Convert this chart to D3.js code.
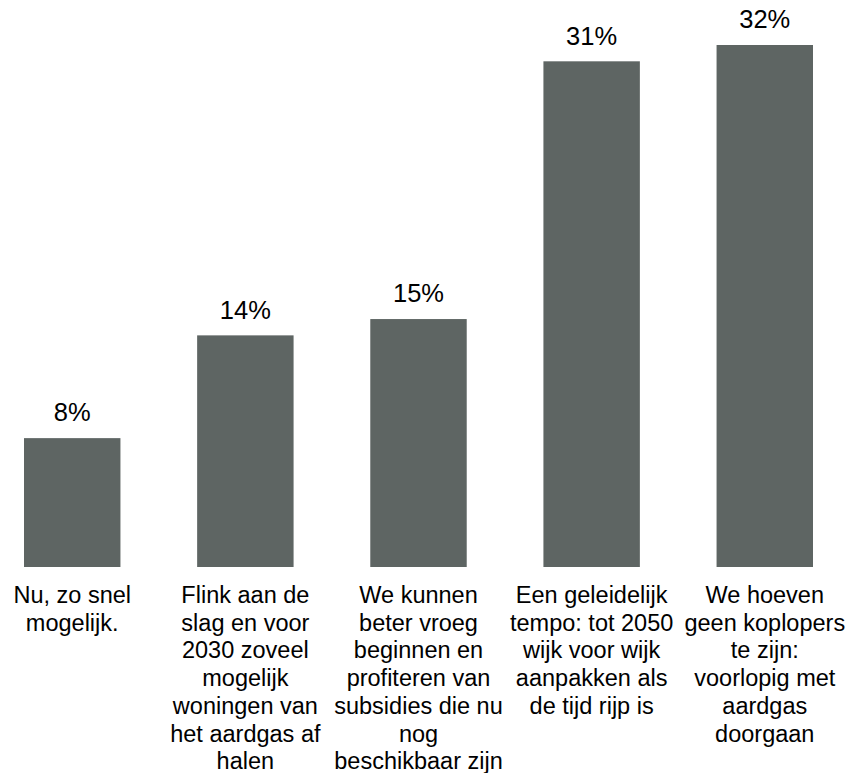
<!DOCTYPE html>
<html>
<head>
<meta charset="utf-8">
<script src="https://cdn.jsdelivr.net/npm/d3@7"></script>
<style>
  html, body { margin: 0; padding: 0; background: #fff; }
  #chart { width: 850px; height: 773px; }
  text { font-family: "Liberation Sans", Arial, sans-serif; fill: #000; }
</style>
</head>
<body>
<div id="chart"></div>
<script>
// Data (line breaks as in the original labels)
let categories = [
  'Nu, zo snel\nmogelijk.',
  'Flink aan de\nslag en voor\n2030 zoveel\nmogelijk\nwoningen van\nhet aardgas af\nhalen',
  'We kunnen\nbeter vroeg\nbeginnen en\nprofiteren van\nsubsidies die nu\nnog\nbeschikbaar zijn',
  'Een geleidelijk\ntempo: tot 2050\nwijk voor wijk\naanpakken als\nde tijd rijp is',
  'We hoeven\ngeen koplopers\nte zijn:\nvoorlopig met\naardgas\ndoorgaan'
]
let shares = [7.9, 14.2, 15.2, 31.0, 32.0]

// Plot constants
let width = 850
let height = 773
let baseY = 567
let topY = 45
let fontSize = 23.5
let valueFontSize = 25.5
let lineH = 27.7

let svg = d3.select('#chart')
  .append('svg')
  .attr('width', width)
  .attr('height', height)

let x = d3.scaleBand()
  .domain(categories)
  .range([24, 813])
  .paddingInner(0.443)
  .paddingOuter(0)

let y = d3.scaleLinear()
  .domain([0, d3.max(shares)])
  .range([baseY, topY])

let data = categories.map(function(c, i) { return {cat: c, val: shares[i]} })

// Bars
svg.append('g')
  .selectAll('rect')
  .data(data)
  .enter().append('rect')
  .attr('x', d => x(d.cat))
  .attr('y', d => y(d.val))
  .attr('width', x.bandwidth())
  .attr('height', d => y(0) - y(d.val))
  .style('fill', '#5e6563')

// Value labels
svg.append('g')
  .selectAll('text')
  .data(data)
  .enter().append('text')
  .attr('x', d => x(d.cat) + x.bandwidth() / 2)
  .attr('y', d => y(d.val) - 16.7)
  .attr('text-anchor', 'middle')
  .style('font-size', valueFontSize + 'px')
  .text(d => Math.round(d.val) + '%')

// Category labels, one tspan per line
let catAxis = d3.axisBottom(x).tickSize(0).tickPadding(0)
let axisG = svg.append('g')
  .attr('transform', `translate(0,${baseY})`)
  .call(catAxis)
axisG.select('.domain').remove()
axisG.selectAll('text')
  .attr('y', 0)
  .attr('dy', null)
  .style('font-size', fontSize + 'px')
  .style('font-family', '"Liberation Sans", Arial, sans-serif')
  .attr('fill', '#000')
  .each(function(d) {
    let t = d3.select(this).text(null)
    d.split('\n').forEach(function(line, i) {
      t.append('tspan')
        .attr('x', 0)
        .attr('y', 36 + i * lineH)
        .text(line)
    })
  })
</script>
</body>
</html>
